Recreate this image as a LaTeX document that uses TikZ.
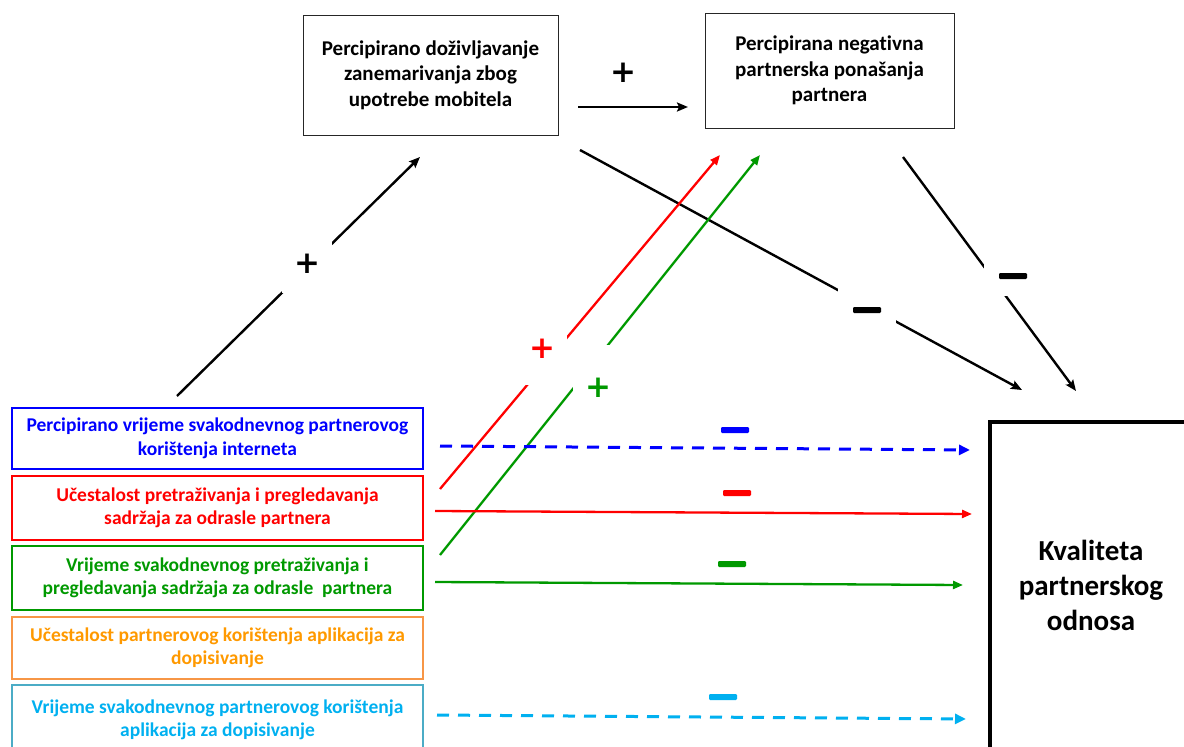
\documentclass[tikz,border=0pt]{standalone}
\usepackage{fontspec}
\setmainfont{Carlito}[Ligatures=NoCommon]
\newfontfamily\signfont{DejaVu Sans}
\usetikzlibrary{arrows.meta}

\definecolor{cblue}{RGB}{0,0,255}
\definecolor{cred}{RGB}{255,0,0}
\definecolor{cgreen}{RGB}{0,153,0}
\definecolor{corange}{RGB}{255,153,0}
\definecolor{corangebox}{RGB}{247,150,70}
\definecolor{ccyan}{RGB}{0,176,240}
\definecolor{ccyanbox}{RGB}{75,172,198}

\tikzset{
  topbox/.style={draw=black!85, line width=1pt, align=center, inner sep=0pt,
    font=\fontsize{21}{25.5}\selectfont\bfseries},
  varbox/.style={draw=#1, line width=2.6pt, minimum width=411pt, inner sep=0pt,
    align=center, font=\fontsize{19.5}{23.5}\selectfont\bfseries},
  blackarrow/.style={-{Stealth[length=11pt,width=9pt,inset=2pt]}, line width=2.4pt, black},
  colarrow/.style={-{Triangle[length=10pt,width=8pt]}, line width=2.3pt, draw=#1},
  dasharrow/.style={-{Triangle[length=11pt,width=10pt]}, line width=3pt, draw=#1,
    dash pattern=on 12pt off 9pt},
  gap/.style={fill=white, inner sep=0pt},
  plussign/.style={inner sep=0pt, text=#1, font=\signfont\bfseries\fontsize{31}{31}\selectfont},
  minussign/.style={fill=#1, inner sep=0pt, minimum width=28pt, minimum height=6pt, rounded corners=1.2pt},
}

\begin{document}
\begin{tikzpicture}[x=1pt,y=-1pt]
\useasboundingbox (0,0) rectangle (1184,747);
\clip (0,0) rectangle (1184,747);

% upper mediator boxes
\node[topbox, minimum width=255pt, minimum height=120pt] (neglect) at (430.5,75)
  {Percipirano doživljavanje\\zanemarivanja zbog\\upotrebe mobitela};
\node[topbox, minimum width=249pt, minimum height=115pt] (negbeh) at (829.5,70.5)
  {Percipirana negativna\\partnerska ponašanja\\partnera};

% predictor boxes
\node[varbox=cblue, minimum height=61pt, text=cblue] (internet) at (217.5,438.5)
  {Percipirano vrijeme svakodnevnog partnerovog\\korištenja interneta};
\node[varbox=cred, minimum height=64pt, text=cred] (freqadult) at (217.5,508)
  {Učestalost pretraživanja i pregledavanja\\sadržaja za odrasle partnera};
\node[varbox=cgreen, minimum height=64pt, text=cgreen] (timeadult) at (217.5,578)
  {Vrijeme svakodnevnog pretraživanja i\\pregledavanja sadržaja za odrasle \ partnera};
\node[varbox=corangebox, minimum height=62pt, text=corange] (freqapp) at (217.5,648)
  {Učestalost partnerovog korištenja aplikacija za\\dopisivanje};
\node[varbox=ccyanbox, minimum height=70pt, text=ccyan] (timeapp) at (217.5,720)
  {Vrijeme svakodnevnog partnerovog korištenja\\aplikacija za dopisivanje};

% outcome box (runs past the right and bottom edges)
\node[draw=black, line width=4.5pt, minimum width=212pt, minimum height=350pt, inner sep=0pt]
  (quality) at (1096,597) {};
\node[align=center, font=\fontsize{29}{35}\selectfont\bfseries, inner sep=0pt]
  (qualitytext) at (1091,585) {Kvaliteta\\partnerskog\\odnosa};

% connector end points
\coordinate (a1s) at (578,107);   \coordinate (a1e) at (688,107);
\coordinate (a2s) at (177,396);   \coordinate (a2e) at (420,157);
\coordinate (a3s) at (580,150);   \coordinate (a3e) at (1022,390);
\coordinate (a4s) at (903,157);   \coordinate (a4e) at (1076,391);
\coordinate (r1s) at (440,489);   \coordinate (r1e) at (720,155);
\coordinate (g1s) at (440,555);   \coordinate (g1e) at (760,155);
\coordinate (h1s) at (440,446);   \coordinate (h1e) at (970,450);
\coordinate (h2s) at (435,511);   \coordinate (h2e) at (972,514);
\coordinate (h3s) at (435,582);   \coordinate (h3e) at (963,585);
\coordinate (h4s) at (437,715);   \coordinate (h4e) at (966,719);

% paths through the mediators
\draw[blackarrow] (a1s) -- (a1e);
\draw[blackarrow] (a2s) -- (a2e);
\draw[blackarrow] (a3s) -- (a3e);
\draw[blackarrow] (a4s) -- (a4e);
\draw[colarrow=cred] (r1s) -- (r1e);
\draw[colarrow=cgreen] (g1s) -- (g1e);

% direct paths to the outcome
\draw[dasharrow=cblue] (h1s) -- (h1e);
\draw[colarrow=cred] (h2s) -- (h2e);
\draw[colarrow=cgreen] (h3s) -- (h3e);
\draw[dasharrow=ccyan] (h4s) -- (h4e);

% white breaks behind the signs
\node[gap, minimum width=50pt, minimum height=54pt] (gapa2) at (307,266) {};
\node[gap, minimum width=58pt, minimum height=50pt] (gapa3) at (867,310) {};
\node[gap, minimum width=58pt, minimum height=40pt] (gapa4) at (1013,276) {};
\node[gap, minimum width=50pt, minimum height=66pt] (gapr1) at (542,352) {};
\node[gap, minimum width=50pt, minimum height=66pt] (gapg1) at (598,378) {};

% signs of the effects
\node[plussign=black] (s1) at (623,73) {+};
\node[plussign=black] (s2) at (307,264) {+};
\node[plussign=cred] (s3) at (542,349) {+};
\node[plussign=cgreen] (s4) at (598,388) {+};
\node[minussign=black] (s5) at (867,310) {};
\node[minussign=black] (s6) at (1013,276) {};
\node[minussign=cblue] (s7) at (735,430) {};
\node[minussign=cred] (s8) at (737,493) {};
\node[minussign=cgreen] (s9) at (732,564) {};
\node[minussign=ccyan] (s10) at (723,697) {};
\end{tikzpicture}
\end{document}
